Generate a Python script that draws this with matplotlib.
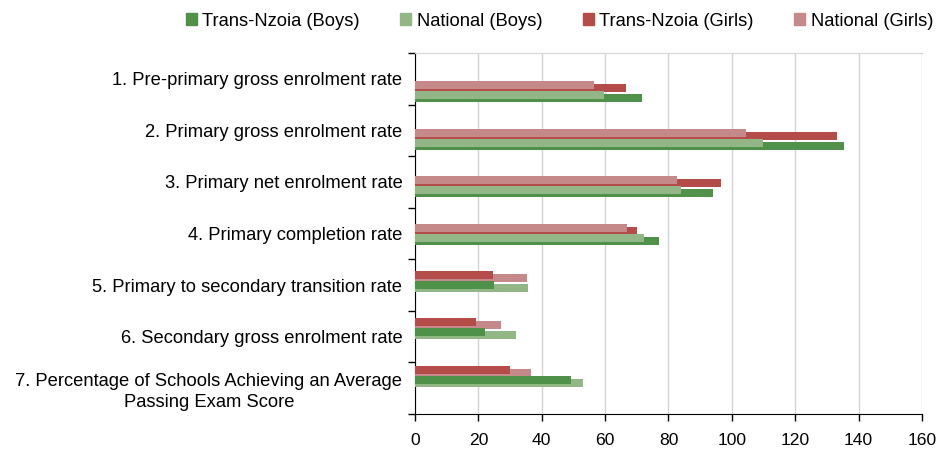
import matplotlib.pyplot as plt
import numpy as np

plt.rcParams['font.family'] = ['Liberation Sans', 'DejaVu Sans']

categories = ["1. Pre-primary gross enrolment rate",
              "2. Primary gross enrolment rate",
              "3. Primary net enrolment rate",
              "4. Primary completion rate",
              "5. Primary to secondary transition rate",
              "6. Secondary gross enrolment rate",
              "7. Percentage of Schools Achieving an Average\nPassing Exam Score"]

tn_boys = [71.5, 135.4, 94.2, 76.9, 24.9, 22.0, 49.1]
nat_boys = [59.8, 109.9, 83.8, 72.4, 35.6, 31.8, 52.9]
tn_girls = [66.5, 133.2, 96.7, 70.2, 24.6, 19.2, 29.9]
nat_girls = [56.4, 104.6, 82.8, 66.8, 35.3, 27.1, 36.5]

# first four rows: national bar sits above/over the county bar, last three the other way
national_on_top = [True, True, True, True, False, False, False]

c_tn_boys = '#50914A'
c_nat_boys = '#92B685'
c_tn_girls = '#B44C4A'
c_nat_girls = '#C48988'

fig = plt.figure(figsize=(9.37, 4.5), dpi=100)
ax = fig.add_axes([415/937, 1-414/450, 507/937, 361/450])

n = len(categories)
idx = np.arange(n)
grp = 0.256 + 0.919*idx   # bar groups drift slightly vs the category slots
h = 0.155
off_a, off_b = 0.068, 0.126

for i in range(n):
    if national_on_top[i]:
        order = [(nat_girls, c_nat_girls, -off_b, 4), (tn_girls, c_tn_girls, -off_a, 3),
                 (nat_boys, c_nat_boys, off_a, 4), (tn_boys, c_tn_boys, off_b, 3)]
    else:
        order = [(tn_girls, c_tn_girls, -off_b, 4), (nat_girls, c_nat_girls, -off_a, 3),
                 (tn_boys, c_tn_boys, off_a, 4), (nat_boys, c_nat_boys, off_b, 3)]
    for vals, col, o, z in order:
        ax.barh(grp[i] + o, vals[i], height=h, color=col, zorder=z, linewidth=0)

ax.set_xlim(0, 160)
ax.set_ylim(n - 0.5, -0.5)
ax.set_xticks(np.arange(0, 161, 20))
ax.grid(axis='x', color='#d4d4d4', linewidth=1, zorder=0)
ax.set_axisbelow(True)

ax.set_yticks(np.arange(n + 1) - 0.5)
ax.set_yticklabels([])
ax.set_yticks(idx, minor=True)
ax.set_yticklabels(categories, minor=True, fontsize=13.2, linespacing=1.3, ha='right',
                   multialignment='center')
ax.tick_params(axis='y', which='minor', length=0, pad=9)
ax.tick_params(axis='y', which='major', length=5, width=1, color='black', direction='out')
ax.tick_params(axis='x', length=5, width=1, color='black', labelsize=12.6, pad=9)

ax.spines['right'].set_visible(False)
ax.spines['top'].set_color('#d4d4d4')
ax.spines['left'].set_color('black')
ax.spines['bottom'].set_color('black')

handles = [plt.Rectangle((0, 0), 1, 1, color=c) for c in [c_tn_boys, c_nat_boys, c_tn_girls, c_nat_girls]]
labels = ['Trans-Nzoia (Boys)', 'National (Boys)', 'Trans-Nzoia (Girls)', 'National (Girls)']
fig.legend(handles, labels, ncol=4, loc='center left', bbox_to_anchor=(186/937, 1-21/450),
           frameon=False, fontsize=13.2, handlelength=0.6, handleheight=0.6,
           handletextpad=0.3, columnspacing=2.2, borderpad=0, borderaxespad=0)

fig.savefig('out.png', dpi=100)
